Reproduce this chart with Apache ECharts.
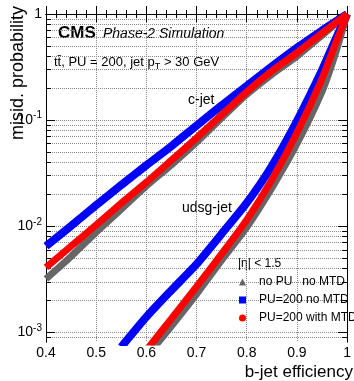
<!DOCTYPE html>
<html>
<head>
<meta charset="utf-8">
<script src="https://cdn.jsdelivr.net/npm/echarts@6/dist/echarts.min.js"></script>
<style>
  html, body { margin: 0; padding: 0; background: #fff; }
  #chart { width: 354px; height: 381px; }
</style>
</head>
<body>
<div id="chart"></div>
<script>
// c-jet misid. probability vs b-jet efficiency
const effC = [0.40, 0.45, 0.50, 0.55, 0.60, 0.65, 0.70, 0.75, 0.80, 0.85, 0.90, 0.95, 1.00];
const noPuC = [0.0032, 0.0052, 0.0088, 0.0145, 0.024, 0.038, 0.062, 0.105, 0.175, 0.27, 0.40, 0.63, 1.0];
const pu200C = [0.0065, 0.0101, 0.0158, 0.0245, 0.0376, 0.057, 0.089, 0.138, 0.21, 0.32, 0.48, 0.70, 1.0];
const pu200MtdC = [0.0041, 0.0065, 0.0103, 0.0165, 0.026, 0.042, 0.068, 0.112, 0.185, 0.29, 0.43, 0.66, 1.0];

// udsg-jet misid. probability (null = not drawn)
const effL = [0.55, 0.60, 0.65, 0.70, 0.75, 0.80, 0.85, 0.90, 0.95, 0.975, 1.00];
const noPuL = [null, 0.00059, 0.00115, 0.0023, 0.0048, 0.0098, 0.023, 0.060, 0.186, 0.40, 1.0];
const pu200L = [0.00073, 0.0014, 0.0025, 0.0044, 0.0085, 0.0166, 0.037, 0.098, 0.295, 0.55, 1.0];
const pu200MtdL = [null, 0.00068, 0.00135, 0.0027, 0.0055, 0.0115, 0.0275, 0.076, 0.245, 0.50, 1.0];

const seriesNames = ['no PU   no MTD', 'PU=200 no MTD', 'PU=200 with MTD'];
const seriesColors = ['#666666', '#0000ff', '#ff0000'];

// y axis is drawn in log10 space
const yDecades = [-3, -2, -1, 0];
const yMin = -3.09, yMax = 0;
const yMinor = [];
[-4, -3, -2, -1].forEach(n => {
  for (let k = 1; k <= 9; k++) {
    const v = Math.log10(k) + n;
    if (v >= yMin) yMinor.push(v);
  }
});
yMinor.push(0);

const font = 'Liberation Sans';
const chart = echarts.init(document.getElementById('chart'));

function curve(name, xs, ys, color, width) {
  const data = [];
  xs.forEach((x, i) => {
    if (ys[i] != null) data.push([x, Math.log10(ys[i])]);
  });
  return {
    type: 'line', name, data,
    showSymbol: false, smooth: 0.2, clip: true, silent: true,
    lineStyle: { color, width },
    itemStyle: { color }
  };
}

const blackLine = { show: true, lineStyle: { color: '#000', width: 1 } };
const dotted = { show: true, lineStyle: { color: '#888', type: 'dotted', width: 1 } };

function xAx(pos, labels) {
  return {
    type: 'value', min: 0.4, max: 1, interval: 0.1, position: pos,
    axisLine: blackLine,
    axisTick: { inside: true, length: 8, lineStyle: { color: '#000' } },
    minorTick: { show: true, splitNumber: 5, length: 4, lineStyle: { color: '#000' } },
    axisLabel: {
      show: labels, fontFamily: font, fontSize: 14, color: '#000', margin: 4,
      formatter: v => (v === 1 ? '1' : v.toFixed(1))
    },
    splitLine: labels ? dotted : { show: false }
  };
}

function yAx(pos, ticks, len, labels, grid) {
  return {
    type: 'value', min: yMin, max: yMax, position: pos,
    axisLine: blackLine,
    axisTick: { inside: true, length: len, customValues: ticks, lineStyle: { color: '#000' } },
    axisLabel: {
      show: labels, customValues: yDecades, fontFamily: font, fontSize: 14, color: '#000', margin: 4,
      formatter: v => (v === 0 ? '1' : '10{s|' + v + '}'),
      rich: { s: { fontFamily: font, fontSize: 10, color: '#000', padding: [0, 0, 9, 0] } }
    },
    splitLine: grid ? dotted : { show: false }
  };
}

const series = [
  curve(seriesNames[0], effC, noPuC, seriesColors[0], 7),
  curve(seriesNames[0], effL, noPuL, seriesColors[0], 7),
  curve(seriesNames[1], effC, pu200C, seriesColors[1], 8),
  curve(seriesNames[1], effL, pu200L, seriesColors[1], 8),
  curve(seriesNames[2], effC, pu200MtdC, seriesColors[2], 7),
  curve(seriesNames[2], effL, pu200MtdL, seriesColors[2], 7)
];

chart.setOption({
  animation: false,
  grid: { left: 46, right: 2, top: 14, bottom: 39 },
  xAxis: [xAx('bottom', true), xAx('top', false)],
  yAxis: [
    yAx('left', yMinor, 5, false, true),
    yAx('left', yDecades, 9, true, false),
    yAx('right', yMinor, 5, false, false),
    yAx('right', yDecades, 9, false, false)
  ],
  legend: {
    orient: 'vertical', left: 234, top: 271,
    itemWidth: 7, itemHeight: 7, itemGap: 6, selectedMode: false,
    textStyle: { fontFamily: font, fontSize: 12, lineHeight: 12, color: '#000', padding: [0, 0, 0, 8] },
    data: [
      { name: seriesNames[0], icon: 'triangle' },
      { name: seriesNames[1], icon: 'rect' },
      { name: seriesNames[2], icon: 'circle' }
    ]
  },
  graphic: [
    { type: 'text', x: 18, y: 6, rotation: Math.PI / 2,
      style: { text: 'misid. probability', fontFamily: font, fontSize: 18, fill: '#000', align: 'right', verticalAlign: 'middle' } },
    { type: 'text', x: 353, y: 372,
      style: { text: 'b-jet efficiency', fontFamily: font, fontSize: 17, fill: '#000', align: 'right', verticalAlign: 'middle' } },
    { type: 'text', x: 58, y: 33,
      style: { text: 'CMS', fontFamily: font, fontSize: 17, fontWeight: 'bold', fill: '#000', verticalAlign: 'middle' } },
    { type: 'text', x: 103, y: 34,
      style: { text: 'Phase-2 Simulation', fontFamily: font, fontSize: 14, fontStyle: 'italic', fill: '#000', verticalAlign: 'middle' } },
    { type: 'text', x: 54, y: 62,
      style: {
        text: '{n|tt\u0304, PU = 200, jet p}{t|T}{n| > 30 GeV}',
        fill: '#000', verticalAlign: 'middle',
        rich: {
          n: { fontFamily: font, fontSize: 13, color: '#000' },
          t: { fontFamily: font, fontSize: 9, color: '#000', padding: [9, 0, 0, 0] }
        }
      } },
    { type: 'text', x: 188, y: 100,
      style: { text: 'c-jet', fontFamily: font, fontSize: 14, fill: '#000', verticalAlign: 'middle' } },
    { type: 'text', x: 182, y: 208,
      style: { text: 'udsg-jet', fontFamily: font, fontSize: 14, fill: '#000', verticalAlign: 'middle' } },
    { type: 'text', x: 238, y: 264,
      style: { text: '|\u03b7| < 1.5', fontFamily: font, fontSize: 12, fill: '#000', verticalAlign: 'middle' } }
  ],
  series
});
</script>
</body>
</html>
